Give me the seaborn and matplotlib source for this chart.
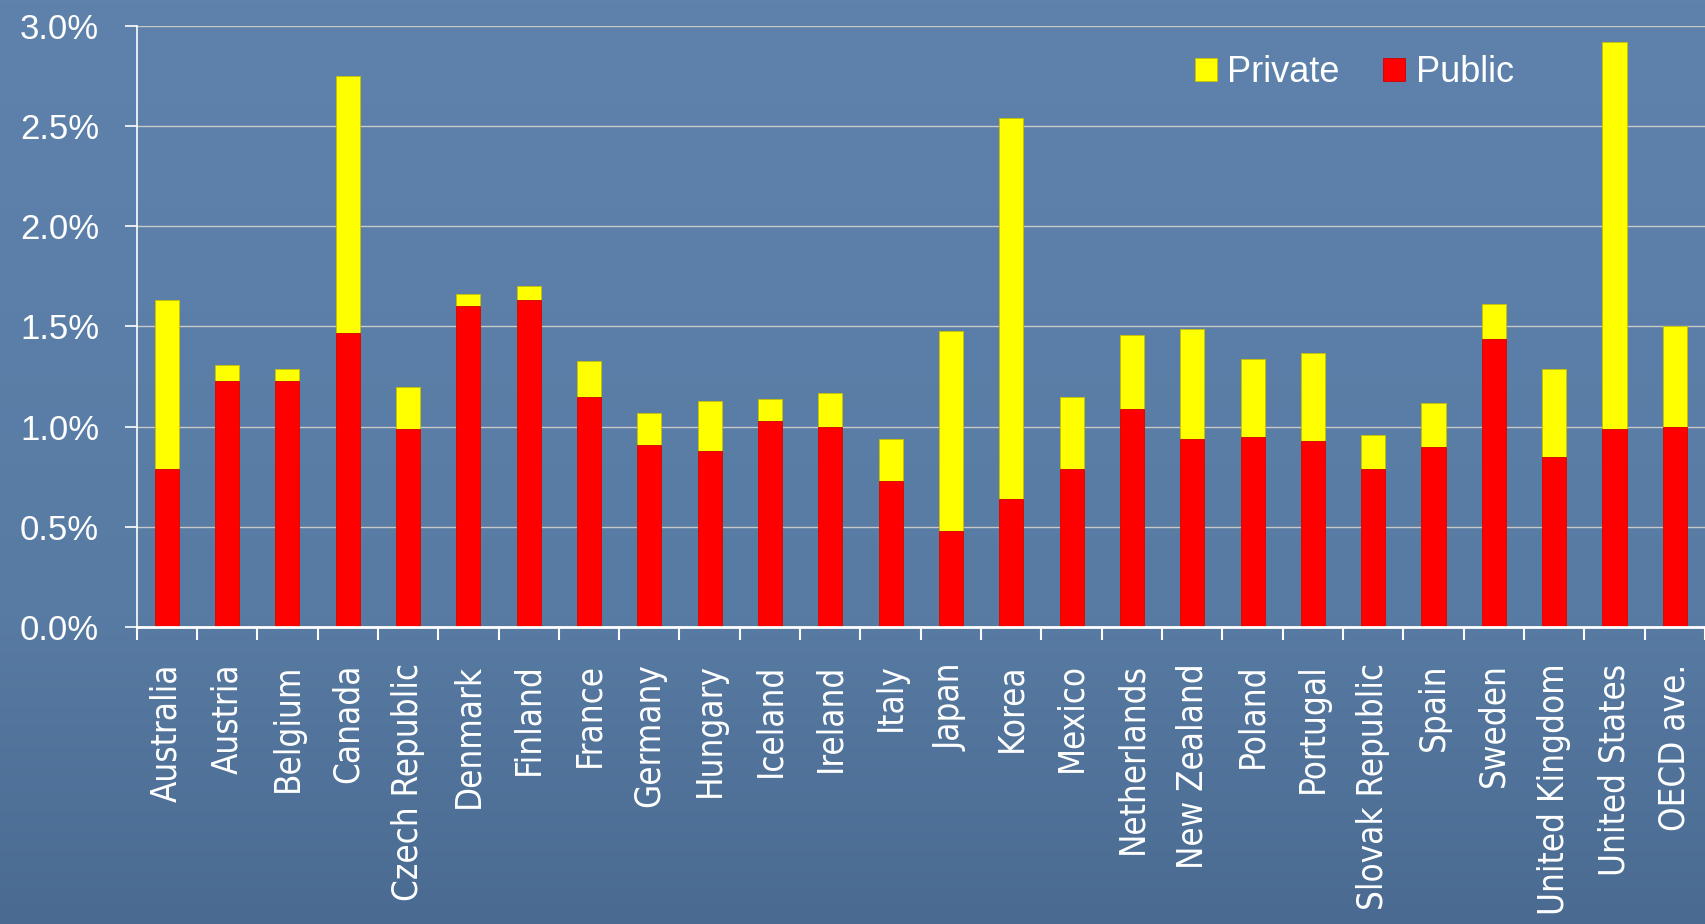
import numpy as np
import pandas as pd
import matplotlib
matplotlib.use("Agg")
import matplotlib.pyplot as plt
import seaborn as sns
from matplotlib import font_manager
from matplotlib.colors import LinearSegmentedColormap
from matplotlib.ticker import FixedLocator, PercentFormatter

countries = ["Australia", "Austria", "Belgium", "Canada", "Czech Republic",
             "Denmark", "Finland", "France", "Germany", "Hungary", "Iceland",
             "Ireland", "Italy", "Japan", "Korea", "Mexico", "Netherlands",
             "New Zealand", "Poland", "Portugal", "Slovak Republic", "Spain",
             "Sweden", "United Kingdom", "United States", "OECD ave."]
# % of GDP
public = [0.79, 1.23, 1.23, 1.47, 0.99, 1.60, 1.63, 1.15, 0.91, 0.88, 1.03,
          1.00, 0.73, 0.48, 0.64, 0.79, 1.09, 0.94, 0.95, 0.93, 0.79, 0.90,
          1.44, 0.85, 0.99, 1.00]
private = [0.84, 0.08, 0.06, 1.28, 0.21, 0.06, 0.07, 0.18, 0.16, 0.25, 0.11,
           0.17, 0.21, 1.00, 1.90, 0.36, 0.37, 0.55, 0.39, 0.44, 0.17, 0.22,
           0.17, 0.44, 1.93, 0.50]
yticks = [0.0, 0.5, 1.0, 1.5, 2.0, 2.5, 3.0]

df = pd.DataFrame({"country": countries, "public": public, "private": private})
df["total"] = df["public"] + df["private"]

sns.set_theme(style="white")
plt.rcParams["font.family"] = ["Liberation Sans", "DejaVu Sans"]

fig = plt.figure(figsize=(17.05, 9.24), dpi=100)

# slide-like blue background
bg = fig.add_axes([0, 0, 1, 1], zorder=-1)
grad = np.linspace(0, 1, 256).reshape(-1, 1)
bg_cmap = LinearSegmentedColormap.from_list("bg", ["#5e82ab", "#5b7fa8", "#587ba3", "#4a6a91"])
bg.imshow(grad, aspect="auto", cmap=bg_cmap, extent=[0, 1, 0, 1])
bg.axis("off")

ax = fig.add_axes([0.0801, 0.3211, 0.9199, 0.6511])
ax.set_facecolor("none")

sns.barplot(data=df, x="country", y="total", color="#ffff00", saturation=1,
            width=0.4, errorbar=None, label="Private", ax=ax,
            edgecolor="#c8c000", linewidth=0.6)
sns.barplot(data=df, x="country", y="public", color="#ff0000", saturation=1,
            width=0.4, errorbar=None, label="Public", ax=ax,
            edgecolor="#d00000", linewidth=0.6)

ax.set_xlim(-0.5, len(countries) - 0.5)
ax.set_ylim(0, 3.0)
ax.set_yticks(yticks)
ax.yaxis.set_major_formatter(PercentFormatter(xmax=100, decimals=1))
ax.yaxis.grid(True, color="#c8c8c8", linewidth=1.0)
ax.set_axisbelow(True)
ax.set_xlabel("")
ax.set_ylabel("")

sns.despine(ax=ax)
ax.spines["left"].set_color("white")
ax.spines["left"].set_linewidth(1.2)
ax.spines["bottom"].set_color("white")
ax.spines["bottom"].set_linewidth(2.0)

# category boundary ticks
ax.xaxis.set_minor_locator(FixedLocator(np.arange(-0.5, len(countries), 1.0)))
ax.tick_params(axis="x", which="minor", bottom=True, length=9, width=1.5,
               color="white", direction="out")
ax.tick_params(axis="x", which="major", length=0, pad=26)
ax.tick_params(axis="y", left=True, length=9, width=1.2, color="white",
               direction="out", pad=18, labelsize=25, labelcolor="white")

cond = font_manager.findfont(font_manager.FontProperties(family="DejaVu Sans", stretch="condensed"))
xsize = 25 if "Condensed" in cond else 22.5
ax.set_xticks(range(len(countries)))
ax.set_xticklabels(countries, rotation=90, ha="center", va="top",
                   fontsize=xsize, color="white", family="DejaVu Sans",
                   fontstretch="condensed")

ax.legend(loc="center left", bbox_to_anchor=(1195 / 1705, 1 - 73 / 924),
          bbox_transform=fig.transFigure, ncol=2, frameon=False, fontsize=26,
          labelcolor="white", handlelength=0.6, handleheight=0.6,
          handletextpad=0.3, columnspacing=1.2, borderpad=0, borderaxespad=0)

fig.savefig("out.png", dpi=100)
